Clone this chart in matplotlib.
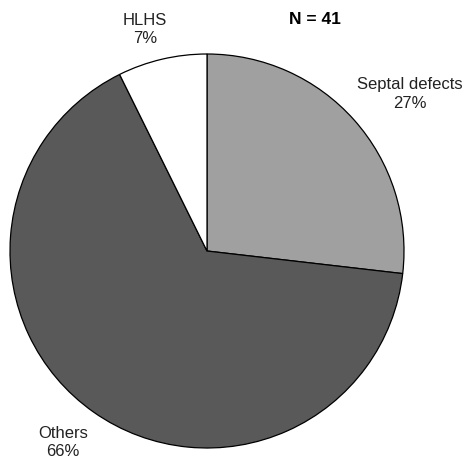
import matplotlib.pyplot as plt

#-----------------------Data--------------------------
labels = ['Septal defects', 'Others', 'HLHS']
counts = [11, 27, 3]
percents = ['27%', '66%', '7%']
colors = ['#a0a0a0', '#595959', '#ffffff']
total = 41
#-----------------------------------------------------

W, H = 468, 461
fig = plt.figure(figsize=(W / 100, H / 100), dpi=100)
ax = fig.add_axes([0, 0, 1, 1])

cx, cy, r = 207, H - 251, 197
ax.pie(counts, colors=colors, startangle=90, counterclock=False,
       center=(cx, cy), radius=r, frame=True,
       wedgeprops=dict(edgecolor='black', linewidth=0.9))
ax.set_xlim(0, W)
ax.set_ylim(0, H)
ax.set_aspect('equal')
ax.axis('off')

fam = ['Liberation Sans', 'DejaVu Sans']

# label centres in pixel coords
label_pos = [(410, 94), (63, 443), (145, 30)]
for name, pct, (px, py) in zip(labels, percents, label_pos):
    ax.text(px, H - py, name + '\n' + pct, ha='center', va='center',
            fontsize=12, color='#222222', linespacing=1.25, family=fam)

ax.text(315, H - 20, 'N = %d' % total, ha='center', va='center',
        fontsize=12.5, fontweight='bold', family=fam)

plt.savefig('out.png', dpi=100)
